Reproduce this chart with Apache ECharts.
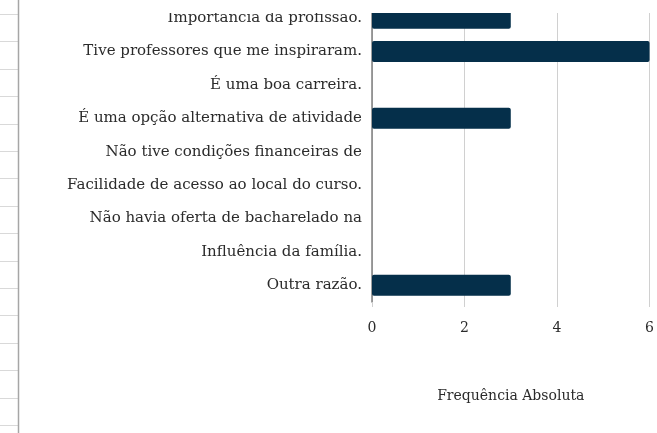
<!DOCTYPE html>
<html>
<head>
<meta charset="utf-8">
<script src="https://cdn.jsdelivr.net/npm/echarts@6/dist/echarts.min.js"></script>
<style>
  html, body { margin: 0; padding: 0; background: #fff; }
  #main { width: 657px; height: 433px; }
</style>
</head>
<body>
<div id="main"></div>
<script>
// categorias (eixo vertical, de cima para baixo)
var categorias = [
    'Importância da profissão.',
    'Tive professores que me inspiraram.',
    'É uma boa carreira.',
    'É uma opção alternativa de atividade',
    'Não tive condições financeiras de',
    'Facilidade de acesso ao local do curso.',
    'Não havia oferta de bacharelado na',
    'Influência da família.',
    'Outra razão.'
];
// frequência absoluta
var frequencia = [3, 6, 0, 3, 0, 0, 0, 0, 3];
var ticksX = [0, 2, 4, 6];

var fonte = '"DejaVu Serif", serif';

// linhas da planilha à esquerda (decoração)
var linhasPlanilha = [];
for (var y = 14; y < 433; y += 27.4) {
    linhasPlanilha.push({
        type: 'line',
        shape: { x1: 0, y1: Math.round(y) + 0.5, x2: 18, y2: Math.round(y) + 0.5 },
        style: { stroke: '#d9d9d9', lineWidth: 1 }
    });
}
linhasPlanilha.push({
    type: 'line',
    shape: { x1: 18.5, y1: 0, x2: 18.5, y2: 433 },
    style: { stroke: '#a6a6a6', lineWidth: 1.5 }
});
// faixa branca que corta o topo do gráfico
linhasPlanilha.push({
    type: 'rect',
    z: 100,
    shape: { x: 20, y: 0, width: 637, height: 13 },
    style: { fill: '#ffffff' }
});

var myChart = echarts.init(document.getElementById('main'));

var option = {
    animation: false,
    grid: {
        left: 372,
        right: 4,
        top: 1.5,
        bottom: 131,
        containLabel: false
    },
    xAxis: {
        type: 'value',
        min: 0,
        max: 6,
        interval: 2,
        name: 'Frequência Absoluta',
        nameLocation: 'middle',
        nameGap: 87,
        nameTextStyle: { fontFamily: fonte, fontSize: 14, color: '#2b2b2b' },
        axisLine: { show: false },
        axisTick: { show: true, length: 5, lineStyle: { color: '#d0d0d0' } },
        axisLabel: {
            fontFamily: fonte, fontSize: 14, color: '#2b2b2b', margin: 19,
            formatter: function (v) { return ticksX.indexOf(v) >= 0 ? String(v) : ''; }
        },
        splitLine: { show: true, lineStyle: { color: '#d0d0d0', width: 1 } }
    },
    yAxis: {
        type: 'category',
        inverse: true,
        data: categorias,
        axisLine: { show: true, lineStyle: { color: '#7f7f7f', width: 1.5 } },
        axisTick: { show: false },
        axisLabel: { fontFamily: fonte, fontSize: 15, color: '#2b2b2b', margin: 10 }
    },
    series: [{
        type: 'bar',
        data: frequencia,
        barWidth: 21,
        itemStyle: { color: '#052f4a', borderRadius: 2 }
    }],
    graphic: linhasPlanilha
};

myChart.setOption(option);
</script>
</body>
</html>
